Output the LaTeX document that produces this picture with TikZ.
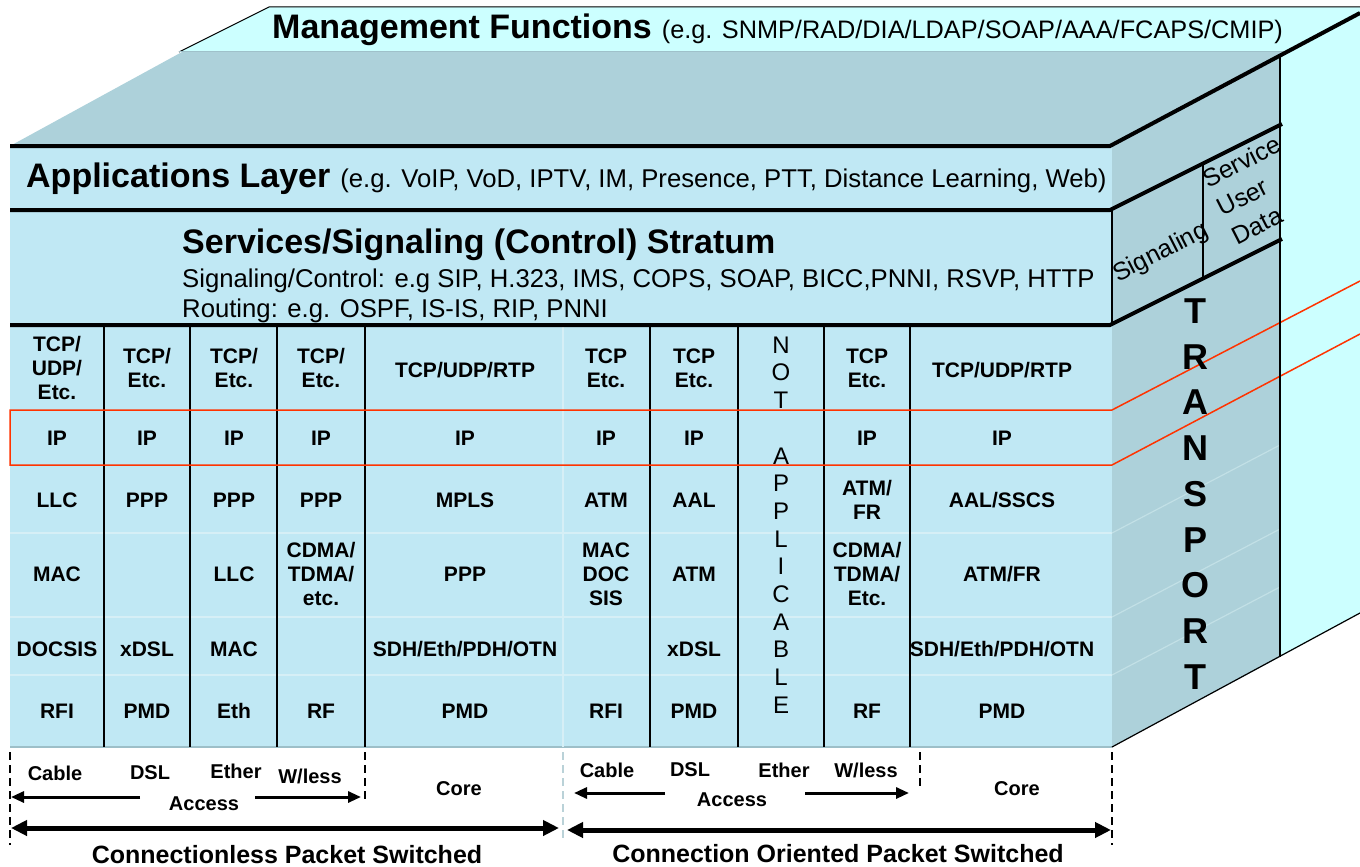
\documentclass[tikz,border=0pt]{standalone}
\usepackage{fontspec}
\setmainfont{Liberation Sans}
\usetikzlibrary{arrows.meta}
\definecolor{wallcyan}{HTML}{CCFFFF}
\definecolor{faceblue}{HTML}{C0E8F4}
\definecolor{topface}{HTML}{ADD1DA}
\definecolor{rowline}{HTML}{D6EFF6}
\definecolor{sideline}{HTML}{C2E0E6}
\definecolor{edgegray}{HTML}{9DBFC8}
\definecolor{ipred}{HTML}{FF3300}
\newcommand{\headfont}{\fontsize{34}{37}\selectfont\bfseries}
\newcommand{\egfont}{\fontsize{25.7}{30}\selectfont\mdseries}

\begin{document}
\begin{tikzpicture}[x=1pt,y=-1pt,
  thickrule/.style={line width=4pt},
  thinrule/.style={line width=1.2pt},
  colrule/.style={line width=1.8pt},
  rowrule/.style={line width=1.2pt,draw=rowline},
  cell/.style={font=\fontsize{21}{24}\selectfont\bfseries,align=center,inner sep=0pt},
  bandtext/.style={anchor=base west,inner sep=0pt},
  sidetext/.style={font=\fontsize{25}{32}\selectfont,inner sep=0pt,rotate=27},
  techlabel/.style={font=\fontsize{20}{22}\selectfont\bfseries,inner sep=0pt},
  domainlabel/.style={font=\fontsize{25}{28}\selectfont\bfseries,inner sep=0pt},
  spanline/.style={line width=2pt,dash pattern=on 8pt off 5pt},
  smallarrow/.style={line width=3pt,-{Triangle[length=13pt,width=11pt]}},
  bigarrow/.style={line width=5pt,{Triangle[length=16pt,width=15pt]}-{Triangle[length=16pt,width=15pt]}}]
\useasboundingbox (0,0) rectangle (1360,867);

% management wall and stack faces
\fill[wallcyan] (179,52) -- (269,7) -- (1360,7) -- (1360,613) -- (1280,657) -- (1280,52) -- cycle;
\draw[line width=1pt] (179,52) -- (269,7) -- (1360,7);
\draw[line width=1pt,edgegray] (179,52) -- (1287,52);
\fill[topface] (10,146) -- (182,52) -- (1287,52) -- (1280,57) -- (1280,657) -- (1112,747) -- cycle;
\fill[faceblue] (10,146) rectangle (1112,747);
\draw[line width=1.2pt,edgegray] (10,747) -- (1112,747);

% row lines, front and side
\draw[rowrule] (10,533) -- (1112,533);
\draw[rowrule] (10,617) -- (1112,617);
\draw[rowrule] (10,675) -- (1112,675);
\draw[rowrule] (563,325) -- (563,747);
\draw[rowrule,sideline] (1112,533) -- ++(168,-88);
\draw[rowrule,sideline] (1112,617) -- ++(168,-88);
\draw[rowrule,sideline] (1112,675) -- ++(168,-88);

% column lines
\draw[colrule] (104,325) -- (104,747);
\draw[colrule] (190,325) -- (190,747);
\draw[colrule] (277,325) -- (277,747);
\draw[colrule] (365,325) -- (365,747);
\draw[colrule] (650,325) -- (650,747);
\draw[colrule] (738,325) -- (738,747);
\draw[colrule] (824,325) -- (824,747);
\draw[colrule] (910,325) -- (910,747);

% IP row
\draw[line width=1.5pt,ipred] (1360,281) -- (1112,410) -- (10,410) -- (10,465) -- (1112,465) -- (1360,334);

% layer rules
\draw[thickrule] (10,146) -- (1110,146) -- (1360,13);
\draw[thickrule] (10,210) -- (1110,210) -- (1282,124);
\draw[thickrule] (10,325) -- (1110,325) -- (1282,239);
\draw[thinrule] (1112,210) -- (1112,325);
\draw[thinrule] (1203,163) -- (1203,278);
\draw[thinrule] (1280,57) -- (1280,657);
\draw[thinrule] (1112,747) -- (1360,613);

% layer texts
\node[bandtext] (mgmt) at (272,39) {{\headfont Management Functions}\hspace{10pt}{\fontsize{25.3}{30}\selectfont (e.g. SNMP/RAD/DIA/LDAP/SOAP/AAA/FCAPS/CMIP)}};
\node[bandtext] (apps) at (26,187) {{\headfont Applications Layer}\hspace{10pt}{\egfont (e.g. VoIP, VoD, IPTV, IM, Presence, PTT, Distance Learning, Web)}};
\node[bandtext] (svc) at (182,253) {\headfont Services/Signaling (Control) Stratum};
\node[bandtext] (sigctl) at (182,287) {\egfont Signaling/Control: e.g SIP, H.323, IMS, COPS, SOAP, BICC,PNNI, RSVP, HTTP};
\node[bandtext] (routing) at (182,317) {\egfont Routing: e.g. OSPF, IS-IS, RIP, PNNI};
\node[sidetext] (signaling) at (1161,253) {Signaling};
\node[sidetext,align=left] (userdata) at (1256,190) {Service\\User\\Data};
\node[font=\fontsize{36}{45.7}\selectfont\bfseries,align=center,inner sep=0pt] (transport) at (1195,494) {T\\R\\A\\N\\S\\P\\O\\R\\T};

% protocol cells
\node[cell] (r1c1) at (57,368) {TCP/\\UDP/\\Etc.};
\node[cell] (r1c2) at (147,368) {TCP/\\Etc.};
\node[cell] (r1c3) at (234,368) {TCP/\\Etc.};
\node[cell] (r1c4) at (321,368) {TCP/\\Etc.};
\node[cell] (r1c5) at (465,370) {TCP/UDP/RTP};
\node[cell] (r1c6) at (606,368) {TCP\\Etc.};
\node[cell] (r1c7) at (694,368) {TCP\\Etc.};
\node[cell] (r1c9) at (867,368) {TCP\\Etc.};
\node[cell] (r1c10) at (1002,370) {TCP/UDP/RTP};

\node[cell] (r2c1) at (57,438) {IP};
\node[cell] (r2c2) at (147,438) {IP};
\node[cell] (r2c3) at (234,438) {IP};
\node[cell] (r2c4) at (321,438) {IP};
\node[cell] (r2c5) at (465,438) {IP};
\node[cell] (r2c6) at (606,438) {IP};
\node[cell] (r2c7) at (694,438) {IP};
\node[cell] (r2c9) at (867,438) {IP};
\node[cell] (r2c10) at (1002,438) {IP};

\node[cell] (r3c1) at (57,500) {LLC};
\node[cell] (r3c2) at (147,500) {PPP};
\node[cell] (r3c3) at (234,500) {PPP};
\node[cell] (r3c4) at (321,500) {PPP};
\node[cell] (r3c5) at (465,500) {MPLS};
\node[cell] (r3c6) at (606,500) {ATM};
\node[cell] (r3c7) at (694,500) {AAL};
\node[cell] (r3c9) at (867,500) {ATM/\\FR};
\node[cell] (r3c10) at (1002,500) {AAL/SSCS};

\node[cell] (r4c1) at (57,574) {MAC};
\node[cell] (r4c3) at (234,574) {LLC};
\node[cell] (r4c4) at (321,574) {CDMA/\\TDMA/\\etc.};
\node[cell] (r4c5) at (465,574) {PPP};
\node[cell] (r4c6) at (606,574) {MAC\\DOC\\SIS};
\node[cell] (r4c7) at (694,574) {ATM};
\node[cell] (r4c9) at (867,574) {CDMA/\\TDMA/\\Etc.};
\node[cell] (r4c10) at (1002,574) {ATM/FR};

\node[cell] (r5c1) at (57,649) {DOCSIS};
\node[cell] (r5c2) at (147,649) {xDSL};
\node[cell] (r5c3) at (234,649) {MAC};
\node[cell] (r5c5) at (465,649) {SDH/Eth/PDH/OTN};
\node[cell] (r5c7) at (694,649) {xDSL};
\node[cell] (r5c10) at (1002,649) {SDH/Eth/PDH/OTN};

\node[cell] (r6c1) at (57,711) {RFI};
\node[cell] (r6c2) at (147,711) {PMD};
\node[cell] (r6c3) at (234,711) {Eth};
\node[cell] (r6c4) at (321,711) {RF};
\node[cell] (r6c5) at (465,711) {PMD};
\node[cell] (r6c6) at (606,711) {RFI};
\node[cell] (r6c7) at (694,711) {PMD};
\node[cell] (r6c9) at (867,711) {RF};
\node[cell] (r6c10) at (1002,711) {PMD};

\node[font=\fontsize{24}{27.7}\selectfont,align=center,inner sep=0pt] (notapp) at (781,525) {N\\O\\T\\[27.7pt]A\\P\\P\\L\\I\\C\\A\\B\\L\\E};

% access / core spans
\draw[spanline] (10,752) -- (10,845);
\draw[spanline] (365,752) -- (365,800);
\draw[spanline,edgegray!70] (563,752) -- (563,840);
\draw[spanline] (920,752) -- (920,790);
\draw[spanline] (1112,752) -- (1112,845);

\node[techlabel] (cableL) at (55,773) {Cable};
\node[techlabel] (dslL) at (150,773) {DSL};
\node[techlabel] (etherL) at (236,771) {Ether};
\node[techlabel] (wlessL) at (310,776) {W/less};
\node[techlabel] (accessL) at (204,804) {Access};
\node[techlabel] (coreL) at (459,789) {Core};
\coordinate (accLw) at (140,797);
\coordinate (accLwEnd) at (11,797);
\coordinate (accLe) at (255,797);
\coordinate (accLeEnd) at (361,797);
\draw[smallarrow] (accLw) -- (accLwEnd);
\draw[smallarrow] (accLe) -- (accLeEnd);
\coordinate (clessW) at (11,828);
\coordinate (clessE) at (559,828);
\draw[bigarrow] (clessW) -- (clessE);
\node[domainlabel] (cless) at (287,855) {Connectionless Packet Switched};

\node[techlabel] (cableR) at (607,770) {Cable};
\node[techlabel] (dslR) at (690,770) {DSL};
\node[techlabel] (etherR) at (784,770) {Ether};
\node[techlabel] (wlessR) at (866,770) {W/less};
\node[techlabel] (accessR) at (732,800) {Access};
\node[techlabel] (coreR) at (1017,789) {Core};
\coordinate (accRw) at (665,793);
\coordinate (accRwEnd) at (574,793);
\coordinate (accRe) at (805,793);
\coordinate (accReEnd) at (909,793);
\draw[smallarrow] (accRw) -- (accRwEnd);
\draw[smallarrow] (accRe) -- (accReEnd);
\coordinate (coW) at (567,830);
\coordinate (coE) at (1111,830);
\draw[bigarrow] (coW) -- (coE);
\node[domainlabel] (co) at (838,854) {Connection Oriented Packet Switched};
\end{tikzpicture}
\end{document}
